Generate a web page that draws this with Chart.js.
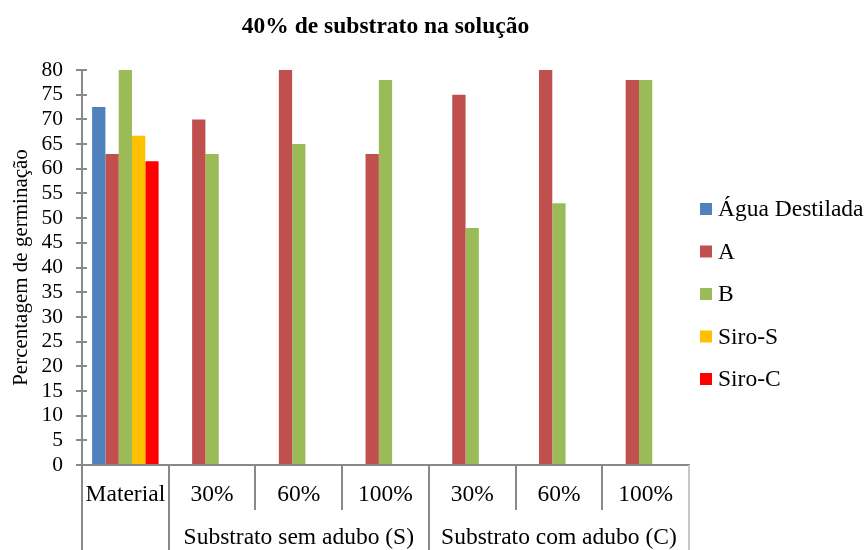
<!DOCTYPE html>
<html>
<head>
<meta charset="utf-8">
<script src="https://cdn.jsdelivr.net/npm/chart.js@4.4.0/dist/chart.umd.min.js"></script>
<style>
  html, body { margin: 0; padding: 0; background: #fff; }
</style>
</head>
<body>
<canvas id="chart" width="867" height="550"></canvas>
<script>
// --- data ---
const categories = ["Material", "30%", "60%", "100%", "30%", "60%", "100%"];
const groupLabels = ["Substrato sem adubo (S)", "Substrato com adubo (C)"];
const groupSpans = [[1, 3], [4, 6]];

const seriesNames = ["Água Destilada", "A", "B", "Siro-S", "Siro-C"];
const aguaDestilada = [72.5, null, null, null, null, null, null];
const serieA = [63, 70, 80, 63, 75, 80, 78];
const serieB = [80, 63, 65, 78, 48, 53, 78];
const siroS = [66.7, null, null, null, null, null, null];
const siroC = [61.5, null, null, null, null, null, null];
const seriesColors = ["#4F81BD", "#C0504D", "#9BBB59", "#FFC000", "#FF0000"];

const yMin = 0, yMax = 80, yStep = 5;

const FONT = "'Liberation Serif', 'Times New Roman', serif";
const AXIS = "#898989";

// --- legend on the right side ---
const sideLegend = {
  id: "sideLegend",
  afterDraw(chart) {
    const ctx = chart.ctx;
    const x = chart.chartArea.right + 11;
    ctx.save();
    ctx.font = "23.5px " + FONT;
    ctx.textBaseline = "middle";
    chart.data.datasets.forEach((ds, i) => {
      const cy = 209 + i * 42.5;
      ctx.fillStyle = ds.backgroundColor;
      ctx.fillRect(x, cy - 6, 12, 12);
      ctx.fillStyle = "#000";
      ctx.fillText(ds.label, x + 18, cy + 1);
    });
    ctx.restore();
  }
};

// --- second row of the category axis (groups) + inner tick marks ---
const groupAxis = {
  id: "groupAxis",
  afterDraw(chart) {
    const ctx = chart.ctx;
    const xs = chart.scales.x;
    const ys = chart.scales.y;
    const half = (xs.getPixelForValue(1) - xs.getPixelForValue(0)) / 2;
    const top = chart.chartArea.bottom;
    const bottom = chart.height;
    ctx.save();
    ctx.lineWidth = 2;

    // y tick marks cross the axis (Excel style), inner half
    ctx.strokeStyle = AXIS;
    const left = chart.chartArea.left;
    ys.ticks.forEach((t) => {
      const py = Math.round(ys.getPixelForValue(t.value));
      ctx.beginPath();
      ctx.moveTo(left, py);
      ctx.lineTo(left + 5, py);
      ctx.stroke();
    });

    // long separators: left edge, after Material, between groups, right edge
    const edges = [0, groupSpans[0][0], groupSpans[1][0], categories.length];
    edges.forEach((k, i) => {
      const px = Math.round(xs.getPixelForValue(k) - half);
      ctx.strokeStyle = i === edges.length - 1 ? "#c8c8c8" : AXIS;
      ctx.beginPath();
      ctx.moveTo(px, top);
      ctx.lineTo(px, bottom);
      ctx.stroke();
    });

    ctx.fillStyle = "#000";
    ctx.font = "23.5px " + FONT;
    ctx.textAlign = "center";
    ctx.textBaseline = "middle";
    groupLabels.forEach((label, i) => {
      const [a, b] = groupSpans[i];
      const cx = (xs.getPixelForValue(a) + xs.getPixelForValue(b)) / 2;
      ctx.fillText(label, cx, top + 73);
    });
    ctx.restore();
  }
};

const seriesData = [aguaDestilada, serieA, serieB, siroS, siroC];

new Chart(document.getElementById("chart"), {
  type: "bar",
  data: {
    labels: categories,
    datasets: seriesData.map((d, i) => ({
      label: seriesNames[i],
      data: d,
      backgroundColor: seriesColors[i],
      borderWidth: 0,
      categoryPercentage: 0.767,
      barPercentage: 1.0,
    })),
  },
  options: {
    responsive: false,
    animation: false,
    layout: { padding: { left: 0, right: 178, top: 0, bottom: 0 } },
    plugins: {
      legend: { display: false },
      tooltip: { enabled: false },
      title: {
        display: true,
        text: "40% de substrato na solução",
        fullSize: false,
        color: "#000",
        font: { family: FONT, size: 23.5, weight: "bold" },
        padding: { top: 13, bottom: 28.8 },
      },
    },
    scales: {
      x: {
        grid: {
          display: true,
          drawOnChartArea: false,
          offset: true,
          tickLength: 45,
          color: AXIS,
          lineWidth: 2,
        },
        border: { display: true, color: AXIS, width: 2 },
        ticks: {
          color: "#000",
          font: { family: FONT, size: 23.5 },
          padding: -29.6,
          maxRotation: 0,
          autoSkip: false,
        },
        afterFit: (s) => { s.height = 85; },
      },
      y: {
        min: yMin,
        max: yMax,
        grid: {
          display: true,
          drawOnChartArea: false,
          tickLength: 6,
          color: AXIS,
          lineWidth: 2,
        },
        border: { display: true, color: AXIS, width: 2 },
        ticks: {
          stepSize: yStep,
          autoSkip: false,
          color: "#000",
          font: { family: FONT, size: 21.5 },
          padding: 13,
        },
        title: {
          display: true,
          text: "Percentagem de germinação",
          color: "#000",
          font: { family: FONT, size: 21 },
          padding: { top: 8.4, bottom: 0 },
        },
        afterFit: (s) => { s.width = 82; },
      },
    },
  },
  plugins: [sideLegend, groupAxis],
});
</script>
</body>
</html>
